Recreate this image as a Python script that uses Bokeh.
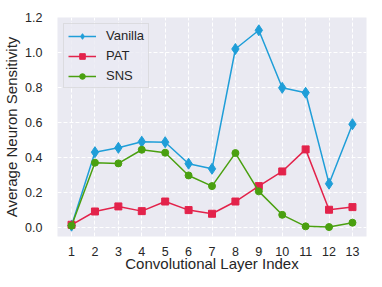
from bokeh.plotting import figure
from bokeh.models import Range1d, FixedTicker, Legend, LegendItem, CustomJSTickFormatter
from bokeh.embed import file_html
from bokeh.resources import INLINE

layers = list(range(1, 14))
vanilla = [0.01, 0.43, 0.455, 0.49, 0.487, 0.364, 0.335, 1.02, 1.127, 0.798, 0.77, 0.25, 0.59]
pat = [0.015, 0.091, 0.12, 0.093, 0.148, 0.099, 0.078, 0.148, 0.236, 0.32, 0.446, 0.101, 0.116]
sns = [0.01, 0.37, 0.366, 0.444, 0.427, 0.297, 0.236, 0.425, 0.206, 0.072, 0.006, 0.002, 0.027]
yticks = [0.0, 0.2, 0.4, 0.6, 0.8, 1.0, 1.2]

FONT = "Liberation Sans"
TXT = "#262626"

p = figure(width=382, height=287, output_backend="svg", toolbar_location=None,
           x_range=Range1d(0.4, 13.6), y_range=Range1d(-0.052, 1.2),
           min_border_left=56, min_border_top=17, min_border_right=16, min_border_bottom=51)
p.background_fill_color = "#eaeaf2"
p.border_fill_color = "white"
p.outline_line_color = None

for ax in (p.xaxis, p.yaxis):
    ax.axis_line_color = None
    ax.major_tick_line_color = None
    ax.minor_tick_line_color = None
    ax.major_label_text_font = FONT
    ax.major_label_text_font_size = "12.5px"
    ax.major_label_text_color = TXT
    ax.axis_label_text_font = FONT
    ax.axis_label_text_font_size = "15px"
    ax.axis_label_text_font_style = "normal"
    ax.axis_label_text_color = TXT
    ax.axis_label_text_line_height = 1.0
    ax.major_label_text_line_height = 1.0

p.xaxis.ticker = FixedTicker(ticks=layers)
p.yaxis.ticker = FixedTicker(ticks=yticks)
p.yaxis.formatter = CustomJSTickFormatter(code="return tick.toFixed(1);")
p.xaxis.axis_label = "Convolutional Layer Index"
p.yaxis.axis_label = "Average Neuron Sensitivity"
p.xaxis.major_label_standoff = 4
p.xaxis.axis_label_standoff = -4
p.yaxis.major_label_standoff = 9
p.yaxis.axis_label_standoff = 2

p.xgrid.grid_line_color = "white"
p.ygrid.grid_line_color = "white"
p.xgrid.grid_line_dash = "4 2"
p.ygrid.grid_line_dash = "4 2"
p.xgrid.grid_line_width = 1
p.ygrid.grid_line_width = 1

C_V = "#1f9ed8"
C_P = "#e3234b"
C_S = "#4aa010"

lv = p.line(layers, vanilla, line_color=C_V, line_width=1.5)
mv = p.scatter(layers, vanilla, marker="diamond", size=11, fill_color=C_V, line_color=C_V)
lp = p.line(layers, pat, line_color=C_P, line_width=1.5)
mp = p.scatter(layers, pat, marker="square", size=7, fill_color=C_P, line_color=C_P)
ls = p.line(layers, sns, line_color=C_S, line_width=1.5)
ms = p.scatter(layers, sns, marker="circle", size=7, fill_color=C_S, line_color=C_S)

legend = Legend(items=[
    LegendItem(label="Vanilla", renderers=[lv, mv]),
    LegendItem(label="PAT", renderers=[lp, mp]),
    LegendItem(label="SNS", renderers=[ls, ms]),
], location="top_left")
legend.label_text_font = FONT
legend.label_text_font_size = "13px"
legend.label_text_color = TXT
legend.background_fill_color = "#eaeaf2"
legend.background_fill_alpha = 0.8
legend.border_line_color = "#cccccc"
legend.border_line_width = 1
legend.glyph_width = 28
legend.glyph_height = 14
legend.label_height = 14
legend.spacing = 5
legend.padding = 4
legend.margin = 6
legend.label_standoff = 10
p.add_layout(legend)

open("out.html", "w").write(file_html(p, INLINE))
